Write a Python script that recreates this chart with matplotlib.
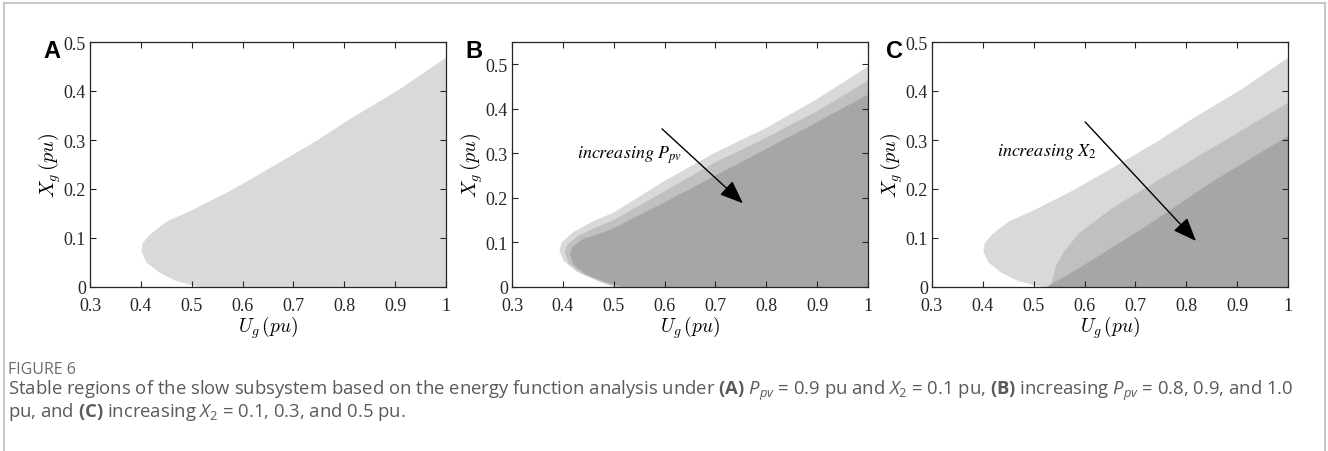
import matplotlib
matplotlib.use("Agg")
import matplotlib.pyplot as plt
from matplotlib.lines import Line2D
import numpy as np

plt.rcParams['font.family'] = 'Liberation Serif'
plt.rcParams['mathtext.fontset'] = 'custom'
plt.rcParams['mathtext.rm'] = 'Open Sans'
plt.rcParams['mathtext.it'] = 'Open Sans:italic'
plt.rcParams['mathtext.bf'] = 'Open Sans:bold'

# stable region boundaries, traced from the x axis round the nose up to Ug = 1
# (A) Ppv = 0.9, X2 = 0.1
a_ug = [0.516, 0.503, 0.470, 0.437, 0.411, 0.401, 0.404, 0.418, 0.450, 0.503, 0.581, 0.666, 0.745, 0.810, 0.908, 1.0]
a_xg = [0.0, 0.003, 0.012, 0.029, 0.050, 0.073, 0.090, 0.107, 0.133, 0.158, 0.199, 0.250, 0.298, 0.342, 0.403, 0.468]

# (B) Ppv = 0.8, 0.9, 1.0
b1_ug = [0.500, 0.473, 0.428, 0.402, 0.393, 0.398, 0.420, 0.460, 0.500, 0.600, 0.700, 0.800, 0.900, 1.0]
b1_xg = [0.0, 0.011, 0.034, 0.058, 0.081, 0.100, 0.123, 0.148, 0.167, 0.238, 0.302, 0.357, 0.422, 0.495]
b2_ug = [0.508, 0.480, 0.437, 0.411, 0.404, 0.409, 0.430, 0.470, 0.500, 0.600, 0.700, 0.800, 0.900, 1.0]
b2_xg = [0.0, 0.010, 0.030, 0.053, 0.078, 0.095, 0.115, 0.136, 0.150, 0.215, 0.280, 0.335, 0.395, 0.463]
b3_ug = [0.518, 0.490, 0.447, 0.421, 0.414, 0.419, 0.440, 0.480, 0.500, 0.600, 0.700, 0.800, 0.900, 1.0]
b3_xg = [0.0, 0.009, 0.027, 0.050, 0.074, 0.090, 0.108, 0.123, 0.132, 0.190, 0.250, 0.310, 0.370, 0.432]

# (C) X2 = 0.1, 0.3, 0.5
c1_ug, c1_xg = a_ug, a_xg
c2_ug = [0.531, 0.535, 0.544, 0.558, 0.590, 0.656, 0.787, 0.918, 1.0]
c2_xg = [0.0, 0.009, 0.043, 0.070, 0.111, 0.162, 0.244, 0.325, 0.376]
c3_ug = [0.525, 0.590, 0.721, 0.853, 1.0]
c3_xg = [0.0, 0.039, 0.124, 0.216, 0.308]

light, mid, dark = '#d9d9d9', '#c0c0c0', '#a6a6a6'

fig = plt.figure(figsize=(13.28, 4.52), dpi=100)
W, H = 1328, 452

def add_panel(left, letter, ymax, yticks):
    ax = fig.add_axes([left / W, (H - 288) / H, 356 / W, 245 / H])
    ax.set_xlim(0.3, 1)
    ax.set_ylim(0, ymax)
    ax.set_xticks(np.arange(0.3, 1.01, 0.1))
    ax.set_xticklabels(['0.3', '0.4', '0.5', '0.6', '0.7', '0.8', '0.9', '1'])
    ax.set_yticks(yticks)
    ax.set_yticklabels(['0' if t == 0 else f'{t:.1f}' for t in yticks])
    ax.tick_params(direction='in', top=True, right=True, labelsize=13,
                   length=4, width=0.8, colors='#262626')
    ax.tick_params(axis='x', pad=7)
    ax.tick_params(axis='y', pad=3)
    for s in ax.spines.values():
        s.set_color('#262626')
        s.set_linewidth(0.9)
    ax.set_xlabel(r'$U_g\,(pu)$', fontsize=14, math_fontfamily='cm', labelpad=0)
    ax.set_ylabel(r'$X_g\,(pu)$', fontsize=14.5, math_fontfamily='cm', labelpad=0)
    fig.text((left - 38) / W, 1 - 52 / H, letter, fontsize=17, fontweight='bold',
             family='Liberation Sans', ha='center', va='center')
    return ax

def region(ax, ug, xg, color):
    ax.fill(np.r_[ug, 1.0], np.r_[xg, 0.0], color=color, lw=0)

arrow = dict(arrowstyle='-|>,head_length=0.8,head_width=0.32', color='k',
             lw=1.0, mutation_scale=18, shrinkA=0, shrinkB=0)

ax = add_panel(90, 'A', 0.5, [0, 0.1, 0.2, 0.3, 0.4, 0.5])
region(ax, a_ug, a_xg, light)

ax = add_panel(512, 'B', 0.55, [0, 0.1, 0.2, 0.3, 0.4, 0.5])
region(ax, b1_ug, b1_xg, light)
region(ax, b2_ug, b2_xg, mid)
region(ax, b3_ug, b3_xg, dark)
ax.annotate('', xy=(0.754, 0.188), xytext=(0.595, 0.355), arrowprops=arrow)
ax.text(0.532, 0.297, r'$increasing\ P_{pv}$', fontsize=13, math_fontfamily='stix',
        ha='center', va='center')

ax = add_panel(932, 'C', 0.5, [0, 0.1, 0.2, 0.3, 0.4, 0.5])
region(ax, c1_ug, c1_xg, light)
region(ax, c2_ug, c2_xg, mid)
region(ax, c3_ug, c3_xg, dark)
ax.annotate('', xy=(0.819, 0.094), xytext=(0.601, 0.337), arrowprops=arrow)
ax.text(0.428, 0.278, r'$increasing\ X_2$', fontsize=13, math_fontfamily='stix',
        ha='left', va='center')

# outer frame
fc = '#c8c8c8'
fig.add_artist(Line2D([4 / W, 1325 / W], [1 - 4 / H, 1 - 4 / H], color=fc, lw=1.5,
                      transform=fig.transFigure))
fig.add_artist(Line2D([4 / W, 4 / W], [0, 1 - 4 / H], color=fc, lw=1.5,
                      transform=fig.transFigure))
fig.add_artist(Line2D([1325 / W, 1325 / W], [0, 1 - 4 / H], color=fc, lw=1.5,
                      transform=fig.transFigure))

# caption
fig.text(8 / W, 1 - 370 / H, 'FIGURE 6', fontsize=11.5, family='Open Sans',
         color='#6b6b6b', va='center')
line1 = (r'Stable regions of the slow subsystem based on the energy function analysis under '
         r'$\mathbf{(A)}$ $P_{pv}$ = 0.9 pu and $X_2$ = 0.1 pu, $\mathbf{(B)}$ increasing '
         r'$P_{pv}$ = 0.8, 0.9, and 1.0')
line2 = r'pu, and $\mathbf{(C)}$ increasing $X_2$ = 0.1, 0.3, and 0.5 pu.'
fig.text(8 / W, 1 - 391 / H, line1, fontsize=13.3, family='Open Sans',
         color='#5a5a5a', va='center')
fig.text(8 / W, 1 - 412 / H, line2, fontsize=13.3, family='Open Sans',
         color='#5a5a5a', va='center')

fig.savefig('out.png', dpi=100)
